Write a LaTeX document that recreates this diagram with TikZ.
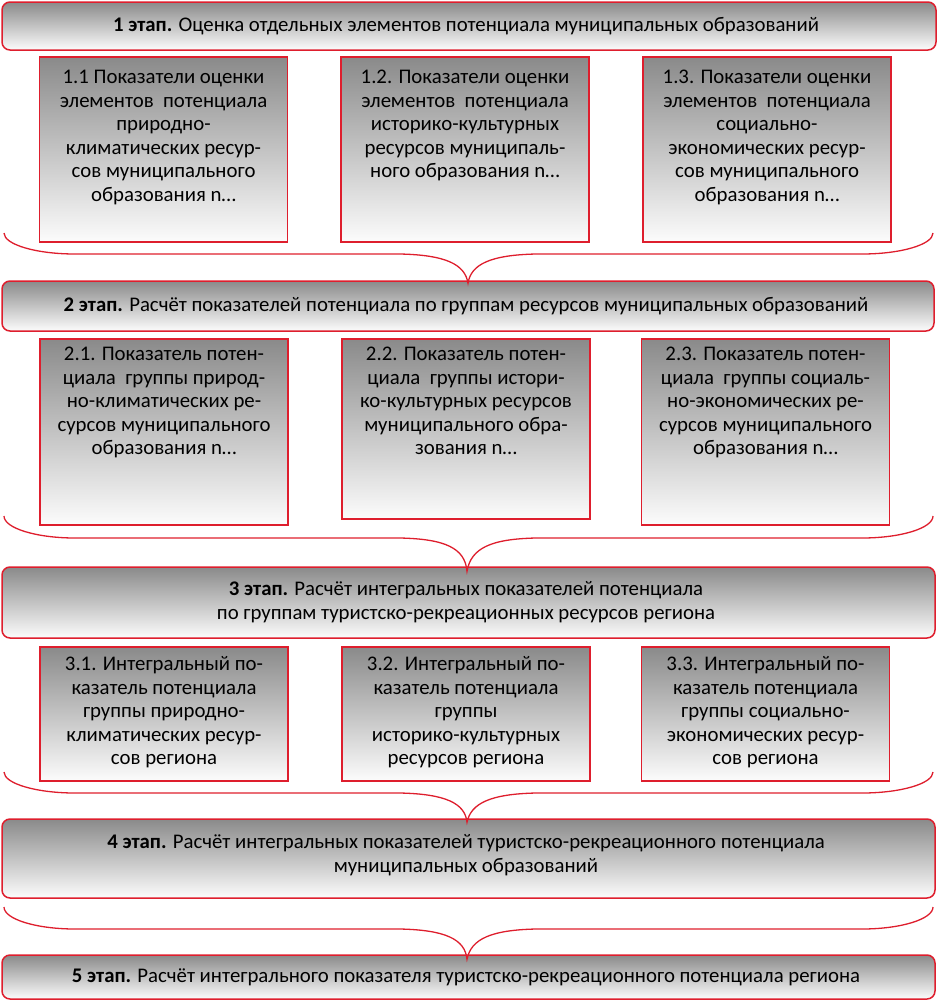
\documentclass[tikz,border=0pt]{standalone}
\usepackage{fontspec}
\setmainfont{Carlito}
\definecolor{bred}{RGB}{222,30,45}
\definecolor{gtop}{RGB}{138,138,138}
\definecolor{gmid}{RGB}{210,210,210}
\definecolor{gbot}{RGB}{252,252,252}
\tikzset{
  stagebox/.style={draw=bred, line width=1.5pt, rounded corners=8pt,
    top color=gtop, middle color=gmid, bottom color=gbot, inner sep=0pt},
  subbox/.style={draw=bred, line width=1.5pt,
    top color=gtop, middle color=gmid, bottom color=gbot, inner sep=0pt,
    minimum width=248pt},
  txt/.style={font=\fontsize{20.8}{23.5}\selectfont, align=center, inner sep=0pt, text=black},
  bracel/.style={draw=bred, line width=1.3pt}
}
% #1 y of ends, #2 y of horizontal, #3 tip coordinate
\newcommand\stagebrace[3]{%
  \draw[bracel] (4,#1) .. controls (4,{#1+0.55*(#2-#1)}) and (36,#2) .. (75,#2)
    -- (400,#2) .. controls (445,{#2+1}) and (465,{#2+10}) .. (#3)
    .. controls (471,{#2+10}) and (491,{#2+1}) .. (536,#2)
    -- (862,#2) .. controls (901,#2) and (933,{#1+0.55*(#2-#1)}) .. (933,#1);}
\begin{document}
\begin{tikzpicture}[x=1pt,y=-1pt]
\useasboundingbox (0,0) rectangle (940,1001);
% stage boxes
\node[stagebox, minimum width=934pt, minimum height=48pt] (S1) at (469,26) {};
\node[stagebox, minimum width=932pt, minimum height=50pt] (S2) at (468,306) {};
\node[stagebox, minimum width=933pt, minimum height=71pt] (S3) at (468.5,602.5) {};
\node[stagebox, minimum width=933pt, minimum height=79pt] (S4) at (468.5,858.5) {};
\node[stagebox, minimum width=933pt, minimum height=44pt] (S5) at (468.5,977) {};
\node[txt] (T1) at (466,26) {\textbf{1 этап.} Оценка отдельных элементов потенциала муниципальных образований};
\node[txt] (T2) at (466,306) {\textbf{2 этап.} Расчёт показателей потенциала по группам ресурсов муниципальных образований};
\node[txt] (T3) at (466,602) {\textbf{3 этап.} Расчёт интегральных показателей потенциала\\по группам туристско-рекреационных ресурсов региона};
\node[txt] (T4) at (466,855) {\textbf{4 этап.} Расчёт интегральных показателей туристско-рекреационного потенциала\\муниципальных образований};
\node[txt] (T5) at (466,977) {\textbf{5 этап.} Расчёт интегрального показателя туристско-рекреационного потенциала региона};
% row 1
\node[subbox, minimum height=185pt] (B11) at (163.5,149.5) {};
\node[subbox, minimum height=185pt] (B12) at (465,149.5) {};
\node[subbox, minimum height=185pt] (B13) at (767,149.5) {};
\node[txt, anchor=north] (L11) at ([yshift=-14pt]B11.north) {1.1 Показатели оценки\\элементов~~потенциала\\природно-\\климатических ресур-\\сов муниципального\\образования n…};
\node[txt, anchor=north] (L12) at ([yshift=-14pt]B12.north) {1.2. Показатели оценки\\элементов~~потенциала\\историко-культурных\\ресурсов муниципаль-\\ного образования n…};
\node[txt, anchor=north] (L13) at ([yshift=-14pt]B13.north) {1.3. Показатели оценки\\элементов~~потенциала\\социально-\\экономических ресур-\\сов муниципального\\образования n…};
% row 2
\node[subbox, minimum height=186pt] (B21) at (164,432) {};
\node[subbox, minimum height=180pt] (B22) at (466,429) {};
\node[subbox, minimum height=186pt] (B23) at (765.5,432) {};
\node[txt, anchor=north] (L21) at ([yshift=-9pt]B21.north) {2.1. Показатель потен-\\циала~~группы природ-\\но-климатических ре-\\сурсов муниципального\\образования n…};
\node[txt, anchor=north] (L22) at ([yshift=-9pt]B22.north) {2.2. Показатель потен-\\циала~~группы истори-\\ко-культурных ресурсов\\муниципального обра-\\зования n…};
\node[txt, anchor=north] (L23) at ([yshift=-9pt]B23.north) {2.3. Показатель потен-\\циала~~группы социаль-\\но-экономических ре-\\сурсов муниципального\\образования n…};
% row 3
\node[subbox, minimum height=134pt] (B31) at (164,714) {};
\node[subbox, minimum height=134pt] (B32) at (466,714) {};
\node[subbox, minimum height=134pt] (B33) at (765.5,714) {};
\node[txt, anchor=north] (L31) at ([yshift=-10pt]B31.north) {3.1. Интегральный по-\\казатель потенциала\\группы природно-\\климатических ресур-\\сов региона};
\node[txt, anchor=north] (L32) at ([yshift=-10pt]B32.north) {3.2. Интегральный по-\\казатель потенциала\\группы\\историко-культурных\\ресурсов региона};
\node[txt, anchor=north] (L33) at ([yshift=-10pt]B33.north) {3.3. Интегральный по-\\казатель потенциала\\группы социально-\\экономических ресур-\\сов региона};
% braces
\coordinate (P1) at ([yshift=-3pt]S2.north -| 468,0);
\coordinate (P2) at ([yshift=-5pt]S3.north -| 467,0);
\coordinate (P3) at ([yshift=-4pt]S4.north -| 467,0);
\coordinate (P4) at ([yshift=-5pt]S5.north -| 467,0);
\stagebrace{233}{254}{P1}
\stagebrace{516}{538}{P2}
\stagebrace{772}{793}{P3}
\stagebrace{907}{929}{P4}
\end{tikzpicture}
\end{document}
